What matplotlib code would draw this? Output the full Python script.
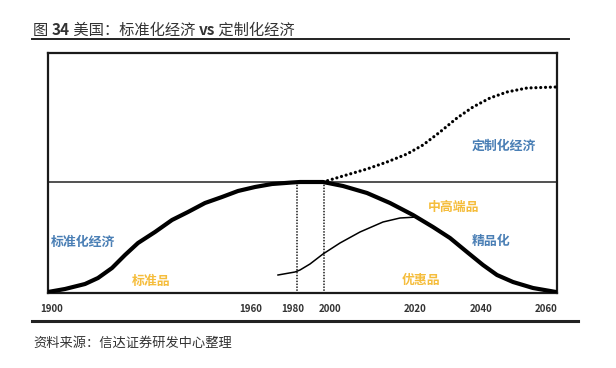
import matplotlib
matplotlib.use("Agg")
import matplotlib.pyplot as plt

plt.rcParams['font.family'] = ['Noto Sans CJK SC', 'DejaVu Sans']

# x positions are in plot units along a non-linear time axis (0..509)
year_labels = ["1900", "1960", "1980", "2000", "2020", "2040", "2060"]
year_pos = [4, 203, 245, 282, 367, 433, 498]

# 标准化经济 -> 精品化 (thick bell curve)
std_x = [0, 17, 37, 50, 64, 77, 90, 107, 124, 140, 157, 174, 190, 207, 224, 244, 252,
         275, 295, 319, 342, 365, 385, 402, 419, 435, 449, 465, 485, 508]
std_y = [1, 4, 9, 15, 25, 38, 50, 61, 73, 81, 90, 96, 102, 106, 109, 110.5, 111,
         111, 107, 100, 90, 78, 66, 55, 41, 28, 18, 11, 5, 1]

# 定制化经济 (dotted)
cus_x = [275, 295, 319, 339, 359, 375, 392, 409, 425, 442, 459, 479, 508]
cus_y = [111, 117, 124, 131, 139, 148, 161, 175, 186, 195, 201, 205, 206]

# 中高端品 (thin)
mid_x = [230, 247, 252, 262, 275, 292, 312, 335, 352, 369]
mid_y = [18, 21, 23, 29, 39, 50, 61, 71, 75, 76]

baseline = 111
vlines_x = [249, 276]

labels = [
    ("标准化经济", 35, 51, "#4a7fb5"),
    ("标准品", 103, 12, "#f5bd3c"),
    ("定制化经济", 456, 147, "#4a7fb5"),
    ("中高端品", 406, 86, "#f5bd3c"),
    ("精品化", 443, 52, "#4a7fb5"),
    ("优惠品", 373, 13, "#f5bd3c"),
]

fig = plt.figure(figsize=(6.16, 3.68), dpi=100)
ax = fig.add_axes([48/616, (368-293)/368, 509/616, 240/368])
ax.set_xlim(0, 509)
ax.set_ylim(0, 240)

ax.axhline(baseline, color="#222222", lw=1.1, zorder=1)
for vx in vlines_x:
    ax.plot([vx, vx], [0, baseline], color="#222222", lw=1.3,
            dashes=(0.01, 1.6), dash_capstyle="round", zorder=2)
ax.plot(std_x, std_y, color="black", lw=3.0, solid_capstyle="round",
        solid_joinstyle="round", zorder=4)
ax.plot(cus_x, cus_y, color="black", lw=2.3, dashes=(0.01, 1.5),
        dash_capstyle="round", zorder=3)
ax.plot(mid_x, mid_y, color="black", lw=1.1, solid_joinstyle="round", zorder=3)

for txt, x, y, c in labels:
    ax.text(x, y, txt, color=c, fontsize=9.3, fontweight="bold", ha="center", va="center")

ax.set_xticks(year_pos)
ax.set_xticklabels(year_labels, fontsize=7, fontweight="bold", color="#333333")
ax.tick_params(axis="x", length=0, pad=8)
ax.set_yticks([])
for s in ax.spines.values():
    s.set_linewidth(1.6)
    s.set_color("#1a1a1a")

# title pieces
tfs = 11
t1 = fig.text(33/616, 1 - 30/368, "图 ", fontsize=tfs, color="#333333", va="center", ha="left")
t2 = ax.annotate("34", xy=(1, 0.5), xycoords=t1, va="center", ha="left",
                 fontsize=tfs, fontweight="bold", color="#333333", annotation_clip=False)
t3 = ax.annotate(" 美国：标准化经济 ", xy=(1, 0.5), xycoords=t2, va="center", ha="left",
                 fontsize=tfs, color="#333333", annotation_clip=False)
t4 = ax.annotate("vs", xy=(1, 0.5), xycoords=t3, va="center", ha="left",
                 fontsize=tfs, fontweight="bold", color="#333333", annotation_clip=False)
t5 = ax.annotate(" 定制化经济", xy=(1, 0.5), xycoords=t4, va="center", ha="left",
                 fontsize=tfs, color="#333333", annotation_clip=False)

fig.add_artist(plt.Line2D([32/616, 569/616], [1 - 39/368, 1 - 39/368], color="#222222", lw=1.4))
fig.add_artist(plt.Line2D([32/616, 578/616], [1 - 321/368, 1 - 321/368], color="#222222", lw=2.2))
fig.text(33/616, 1 - 343/368, "资料来源：信达证券研发中心整理", fontsize=9.5, color="#333333",
         va="center", ha="left")

fig.savefig("out.png", dpi=100, facecolor="white")
